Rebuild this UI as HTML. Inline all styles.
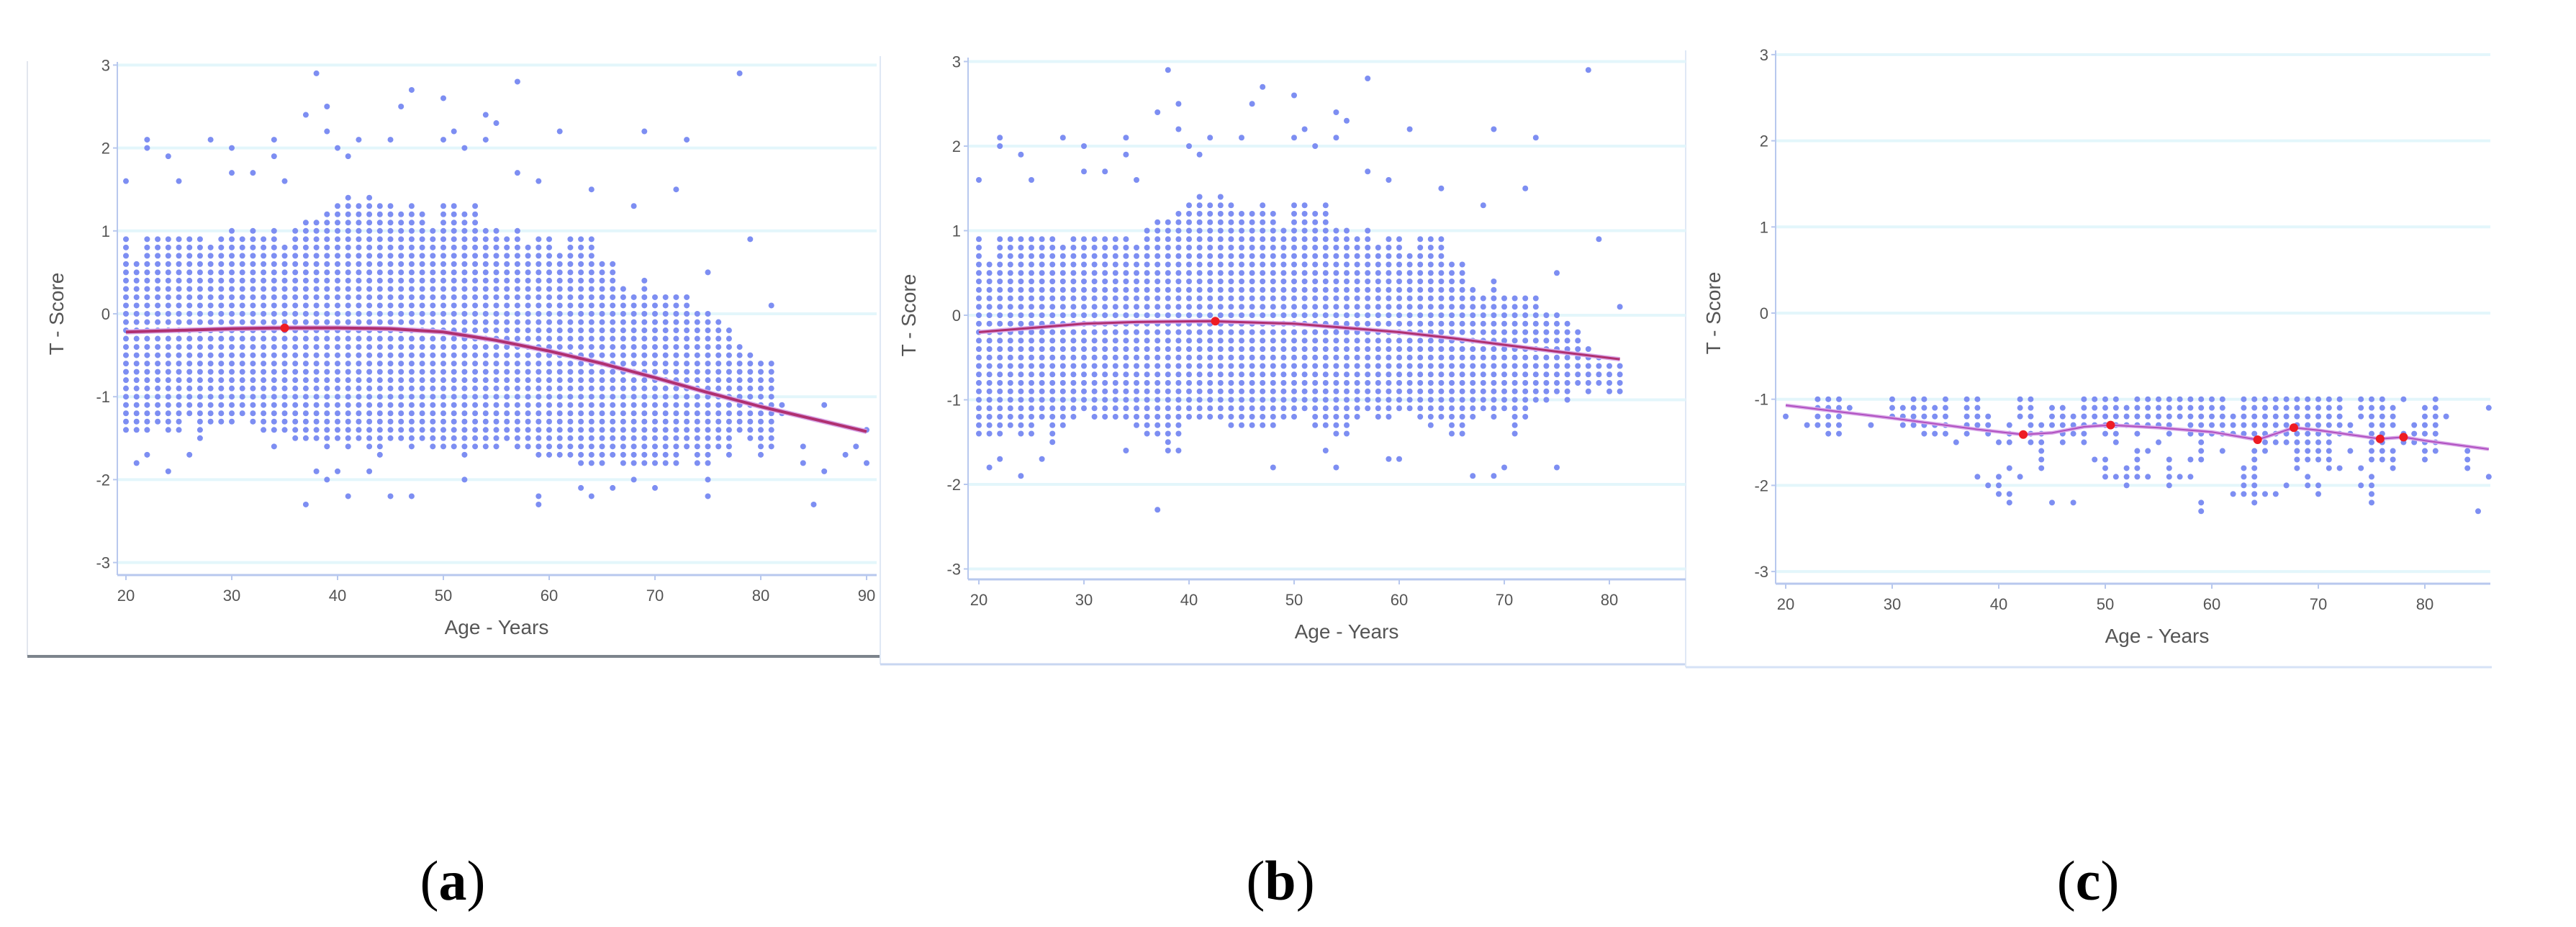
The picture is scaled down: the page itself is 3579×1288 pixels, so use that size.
<!DOCTYPE html>
<html><head><meta charset="utf-8">
<style>
html,body{margin:0;padding:0;background:#fff;}
svg{display:block;}
</style></head>
<body>
<svg id="fig" width="3579" height="1288" viewBox="0 0 3579 1288" xmlns="http://www.w3.org/2000/svg" font-family="'Liberation Sans', sans-serif">
  <g>
    <line x1="38" y1="85" x2="38" y2="912" stroke="#e2e6ee" stroke-width="2"/>
    <line x1="38" y1="912" x2="1222" y2="912" stroke="#7d848c" stroke-width="4"/>
  </g>
  <g>
    <line x1="1223" y1="78" x2="1223" y2="923" stroke="#dfe8f5" stroke-width="2"/>
    <line x1="1223" y1="923" x2="2342" y2="923" stroke="#c8d6f0" stroke-width="3"/>
  </g>
  <g>
    <line x1="2342" y1="70" x2="2342" y2="927" stroke="#dfe8f5" stroke-width="2"/>
    <line x1="2342" y1="927" x2="3462" y2="927" stroke="#d6e2f6" stroke-width="3"/>
  </g>
  <g id="pa"></g>
  <g id="pb"></g>
  <g id="pc"></g>
  <text x="629" y="1250" font-family="'Liberation Serif', serif" font-size="78" text-anchor="middle">(<tspan font-weight="bold">a</tspan>)</text>
  <text x="1779" y="1250" font-family="'Liberation Serif', serif" font-size="78" text-anchor="middle">(<tspan font-weight="bold">b</tspan>)</text>
  <text x="2901" y="1250" font-family="'Liberation Serif', serif" font-size="78" text-anchor="middle">(<tspan font-weight="bold">c</tspan>)</text>
</svg>
<script>
// ---------- shared ticks ----------
const yTicks = [3, 2, 1, 0, -1, -2, -3];
const yTickLabels = ["3", "2", "1", "0", "-1", "-2", "-3"];

// ---------- Panel A data ----------
const aSegAge = [20,21,22,23,24,25,26,27,28,29,30,31,32,33,34,35,36,37,38,39,40,41,42,43,44,45,46,47,48,49,50,51,52,53,54,55,56,57,58,59,60,61,62,63,64,65,66,67,68,69,70,71,72,73,74,75,76,77,78,79,80,81,82];
const aSegHi  = [0.9,0.6,0.9,0.9,0.9,0.9,0.9,0.9,0.8,0.9,1.0,0.9,1.0,0.9,1.0,0.8,1.0,1.1,1.1,1.2,1.3,1.4,1.3,1.4,1.3,1.3,1.2,1.3,1.2,1.0,1.3,1.3,1.2,1.3,1.0,1.0,0.9,1.0,0.8,0.9,0.9,0.7,0.9,0.9,0.9,0.6,0.6,0.3,0.2,0.4,0.2,0.2,0.2,0.2,0.0,0.0,-0.1,-0.2,-0.4,-0.5,-0.6,-0.6,-1.1];
const aSegLo  = [-1.4,-1.4,-1.4,-1.3,-1.4,-1.4,-1.2,-1.5,-1.3,-1.3,-1.3,-1.2,-1.3,-1.4,-1.4,-1.4,-1.5,-1.5,-1.5,-1.6,-1.5,-1.6,-1.5,-1.6,-1.7,-1.5,-1.5,-1.6,-1.5,-1.6,-1.6,-1.6,-1.7,-1.6,-1.6,-1.6,-1.5,-1.6,-1.6,-1.7,-1.7,-1.7,-1.7,-1.8,-1.8,-1.8,-1.7,-1.8,-1.8,-1.8,-1.8,-1.8,-1.8,-1.6,-1.8,-1.8,-1.6,-1.7,-1.4,-1.5,-1.7,-1.6,-1.2];
const aOutAge = [20,22,22,24,25,28,30,30,32,34,34,35,37,38,39,39,40,41,42,45,46,47,50,50,51,52,54,54,55,57,57,59,61,64,68,69,72,73,75,78,79,81,21,22,24,26,34,37,38,39,40,41,43,45,47,52,59,59,63,64,66,68,70,75,75,84,84,85,86,86,88,89,90,90];
const aOutT   = [1.6,2.1,2.0,1.9,1.6,2.1,2.0,1.7,1.7,2.1,1.9,1.6,2.4,2.9,2.5,2.2,2.0,1.9,2.1,2.1,2.5,2.7,2.6,2.1,2.2,2.0,2.4,2.1,2.3,2.8,1.7,1.6,2.2,1.5,1.3,2.2,1.5,2.1,0.5,2.9,0.9,0.1,-1.8,-1.7,-1.9,-1.7,-1.6,-2.3,-1.9,-2.0,-1.9,-2.2,-1.9,-2.2,-2.2,-2.0,-2.3,-2.2,-2.1,-2.2,-2.1,-2.0,-2.1,-2.2,-2.0,-1.6,-1.8,-2.3,-1.1,-1.9,-1.7,-1.6,-1.8,-1.4];
const aCurveAge = [20,25,30,35,40,45,50,55,60,65,70,75,80,85,90];
const aCurveT   = [-0.22,-0.2,-0.18,-0.17,-0.17,-0.18,-0.22,-0.32,-0.45,-0.6,-0.77,-0.95,-1.12,-1.27,-1.42];
const aRedAge = [35];
const aRedT   = [-0.17];
const aXTicks = [20,30,40,50,60,70,80,90];

// ---------- Panel B data ----------
const bSegAge = [20,21,22,23,24,25,26,27,28,29,30,31,32,33,34,35,36,37,38,39,40,41,42,43,44,45,46,47,48,49,50,51,52,53,54,55,56,57,58,59,60,61,62,63,64,65,66,67,68,69,70,71,72,73,74,75,76,77,78,79,80,81];
const bSegHi  = [0.9,0.6,0.9,0.9,0.9,0.9,0.9,0.9,0.8,0.9,0.9,0.9,0.9,0.9,0.9,0.8,1.0,1.1,1.1,1.2,1.3,1.4,1.3,1.4,1.3,1.2,1.2,1.3,1.2,1.0,1.3,1.3,1.2,1.3,1.0,1.0,0.9,1.0,0.8,0.9,0.9,0.7,0.9,0.9,0.9,0.6,0.6,0.3,0.2,0.4,0.2,0.2,0.2,0.2,0.0,0.0,-0.1,-0.2,-0.4,-0.5,-0.6,-0.6];
const bSegLo  = [-1.4,-1.4,-1.4,-1.3,-1.4,-1.4,-1.2,-1.5,-1.3,-1.2,-1.1,-1.2,-1.2,-1.2,-1.2,-1.3,-1.4,-1.4,-1.5,-1.4,-1.2,-1.2,-1.2,-1.2,-1.3,-1.3,-1.3,-1.3,-1.3,-1.2,-1.2,-1.1,-1.3,-1.3,-1.4,-1.4,-1.2,-1.1,-1.2,-1.2,-1.1,-1.1,-1.2,-1.3,-1.2,-1.4,-1.3,-1.2,-1.1,-1.2,-1.1,-1.4,-1.2,-1.0,-1.0,-0.9,-1.0,-0.8,-0.9,-0.8,-0.9,-0.9];
const bOutAge = [20,22,22,24,25,28,30,30,32,34,34,35,37,38,39,39,40,41,42,45,46,47,50,50,51,52,54,54,55,57,57,59,61,64,68,69,72,73,75,78,79,81,21,22,24,26,34,37,38,39,48,53,54,59,60,66,67,69,70,75];
const bOutT   = [1.6,2.1,2.0,1.9,1.6,2.1,2.0,1.7,1.7,2.1,1.9,1.6,2.4,2.9,2.5,2.2,2.0,1.9,2.1,2.1,2.5,2.7,2.6,2.1,2.2,2.0,2.4,2.1,2.3,2.8,1.7,1.6,2.2,1.5,1.3,2.2,1.5,2.1,0.5,2.9,0.9,0.1,-1.8,-1.7,-1.9,-1.7,-1.6,-2.3,-1.6,-1.6,-1.8,-1.6,-1.8,-1.7,-1.7,-1.4,-1.9,-1.9,-1.8,-1.8];
const bCurveAge = [20,25,30,35,42,50,55,60,65,70,75,81];
const bCurveT   = [-0.2,-0.15,-0.1,-0.08,-0.07,-0.1,-0.15,-0.2,-0.27,-0.35,-0.43,-0.52];
const bRedAge = [42.5];
const bRedT   = [-0.07];
const bXTicks = [20,30,40,50,60,70,80];

// ---------- Panel C data ----------
const cSegAge = [20,22,23,24,25,26,28,30,31,32,33,34,35,36,37,38,38,39,39,40,40,41,41,41,42,42,43,44,45,45,46,47,47,48,49,49,50,50,51,51,52,52,53,53,54,54,54,55,55,56,56,57,57,58,58,58,59,59,60,61,61,62,62,63,63,64,64,65,65,66,66,67,67,68,69,69,70,70,71,72,72,73,73,74,74,74,75,75,76,77,77,78,78,79,80,81,82,84,85,86,86];
const cSegHi  = [-1.2,-1.3,-1.0,-1.0,-1.0,-1.1,-1.3,-1.0,-1.1,-1.0,-1.0,-1.1,-1.0,-1.5,-1.0,-1.0,-1.9,-1.2,-2.0,-1.5,-1.9,-1.3,-1.8,-2.1,-1.0,-1.9,-1.0,-1.3,-1.1,-2.2,-1.1,-1.2,-2.2,-1.0,-1.0,-1.7,-1.0,-1.7,-1.0,-1.9,-1.1,-1.8,-1.0,-1.6,-1.0,-1.6,-1.9,-1.0,-1.5,-1.0,-1.7,-1.0,-1.9,-1.0,-1.7,-1.9,-1.0,-2.2,-1.0,-1.0,-1.6,-1.2,-2.1,-1.0,-1.8,-1.0,-1.6,-1.0,-2.1,-1.0,-2.1,-1.0,-2.0,-1.0,-1.0,-1.9,-1.0,-2.0,-1.0,-1.0,-1.8,-1.3,-1.6,-1.0,-1.8,-2.0,-1.0,-1.9,-1.0,-1.1,-1.6,-1.0,-1.4,-1.3,-1.1,-1.0,-1.2,-1.6,-2.3,-1.1,-1.9];
const cSegLo  = [-1.2,-1.3,-1.3,-1.4,-1.4,-1.1,-1.3,-1.2,-1.3,-1.3,-1.4,-1.4,-1.4,-1.5,-1.4,-1.3,-1.9,-1.4,-2.0,-1.5,-2.1,-1.5,-1.8,-2.2,-1.2,-1.9,-1.5,-1.8,-1.3,-2.2,-1.5,-1.4,-2.2,-1.5,-1.3,-1.7,-1.4,-1.9,-1.5,-1.9,-1.3,-2.0,-1.4,-1.9,-1.3,-1.6,-1.9,-1.3,-1.5,-1.4,-2.0,-1.2,-1.9,-1.4,-1.7,-1.9,-1.7,-2.3,-1.4,-1.4,-1.6,-1.4,-2.1,-1.4,-2.1,-1.4,-2.2,-1.6,-2.1,-1.5,-2.1,-1.5,-2.0,-1.8,-1.7,-2.0,-1.7,-2.1,-1.8,-1.4,-1.8,-1.4,-1.6,-1.2,-1.8,-2.0,-1.7,-2.2,-1.7,-1.3,-1.8,-1.0,-1.5,-1.5,-1.7,-1.6,-1.2,-1.8,-2.3,-1.1,-1.9];
const cCurveAge = [20,30,38,42.3,45,48,50.5,55,60,64.3,67.7,70,75.8,78,80,86];
const cCurveT   = [-1.07,-1.22,-1.35,-1.41,-1.39,-1.32,-1.3,-1.33,-1.38,-1.47,-1.33,-1.36,-1.46,-1.44,-1.48,-1.58];
const cRedAge = [42.3,50.5,64.3,67.7,75.8,78];
const cRedT   = [-1.41,-1.3,-1.47,-1.33,-1.46,-1.44];
const cXTicks = [20,30,40,50,60,70,80];

const NS = "http://www.w3.org/2000/svg";
function mk(parent, tag, attrs) {
  const el = document.createElementNS(NS, tag);
  for (const k in attrs) el.setAttribute(k, attrs[k]);
  parent.appendChild(el);
  return el;
}

function drawPanel(g, cfg) {
  const sx = v => cfg.x20 + (v - 20) * cfg.pxYear;
  const sy = v => cfg.y0 - v * cfg.pxUnit;
  // gridlines
  yTicks.forEach((t, i) => {
    const gl = mk(g, "line", {x1: cfg.axisX, x2: cfg.right, y1: sy(t), y2: sy(t), stroke: "#e3f6fb", "stroke-width": 4});
    
    
    const tk = mk(g, "line", {x1: cfg.axisX - 6, x2: cfg.axisX, y1: sy(t), y2: sy(t), stroke: "#b8c8ee", "stroke-width": 2});
    
    
    const tl = mk(g, "text", {x: cfg.axisX - 10, y: sy(t) + 8, "text-anchor": "end", "font-size": 22, fill: "#555"});
    tl.textContent = yTickLabels[i];
    
    
  });
  // axes
  const ya = mk(g, "line", {x1: cfg.axisX, x2: cfg.axisX, y1: cfg.top, y2: cfg.bottom, stroke: "#b8c8ee", "stroke-width": 2});
  
  
  const xa = mk(g, "line", {x1: cfg.axisX, x2: cfg.right, y1: cfg.bottom, y2: cfg.bottom, stroke: "#b8c8ee", "stroke-width": 3});
  
  
  cfg.xTicks.forEach(t => {
    const tk = mk(g, "line", {x1: sx(t), x2: sx(t), y1: cfg.bottom, y2: cfg.bottom + 7, stroke: "#b8c8ee", "stroke-width": 2});
    
    
    const tl = mk(g, "text", {x: sx(t), y: cfg.bottom + 36, "text-anchor": "middle", "font-size": 22, fill: "#555"});
    tl.textContent = String(t);
    
    
  });
  const xt = mk(g, "text", {x: cfg.xTitleX, y: cfg.bottom + 82, "text-anchor": "middle", "font-size": 28, fill: "#555"});
  xt.textContent = "Age - Years";
  
  
  const yt = mk(g, "text", {x: 0, y: 0, "text-anchor": "middle", "font-size": 28, fill: "#555", transform: `translate(${cfg.yTitleX},${cfg.y0}) rotate(-90)`});
  yt.textContent = "T - Score";
  
  
  // points
  const pts = mk(g, "g", {fill: "#7d8ef2"});
  
  
  cfg.segAge.forEach((a, i) => {
    const hi = Math.round(cfg.segHi[i] * 10), lo = Math.round(cfg.segLo[i] * 10);
    for (let k = lo; k <= hi; k++) {
      const c = mk(pts, "circle", {cx: sx(a), cy: sy(k / 10), r: 4});
      
      
    }
  });
  (cfg.outAge || []).forEach((a, i) => {
    const c = mk(pts, "circle", {cx: sx(a), cy: sy(cfg.outT[i]), r: 4});
    
    
  });
  // curve
  const d = cfg.curveAge.map((a, i) => (i ? "L" : "M") + sx(a).toFixed(1) + "," + sy(cfg.curveT[i]).toFixed(1)).join(" ");
  const under = mk(g, "path", {d: d, fill: "none", stroke: "#d9a8e8", "stroke-width": cfg.curveW + 3, "stroke-linejoin": "round"});
  
  
  const cv = mk(g, "path", {d: d, fill: "none", stroke: cfg.curveColor, "stroke-width": cfg.curveW, "stroke-linejoin": "round"});
  
  
  cfg.redAge.forEach((a, i) => {
    const c = mk(g, "circle", {cx: sx(a), cy: sy(cfg.redT[i]), r: 6, fill: "#ee1c24"});
    
    
  });
}

drawPanel(document.getElementById("pa"), {
  x20: 175, pxYear: 14.7, y0: 436, pxUnit: 115.2, axisX: 163, right: 1218, top: 86, bottom: 799,
  xTitleX: 690, yTitleX: 88, xTicks: aXTicks, segAge: aSegAge, segHi: aSegHi, segLo: aSegLo,
  outAge: aOutAge, outT: aOutT, curveAge: aCurveAge, curveT: aCurveT, redAge: aRedAge, redT: aRedT,
  curveColor: "#b03070", curveW: 4
});
drawPanel(document.getElementById("pb"), {
  x20: 1360, pxYear: 14.6, y0: 438, pxUnit: 117.5, axisX: 1345, right: 2342, top: 80, bottom: 805,
  xTitleX: 1871, yTitleX: 1272, xTicks: bXTicks, segAge: bSegAge, segHi: bSegHi, segLo: bSegLo,
  outAge: bOutAge, outT: bOutT, curveAge: bCurveAge, curveT: bCurveT, redAge: bRedAge, redT: bRedT,
  curveColor: "#b03070", curveW: 3
});
drawPanel(document.getElementById("pc"), {
  x20: 2481, pxYear: 14.8, y0: 435, pxUnit: 119.7, axisX: 2467, right: 3460, top: 70, bottom: 811,
  xTitleX: 2997, yTitleX: 2390, xTicks: cXTicks, segAge: cSegAge, segHi: cSegHi, segLo: cSegLo,
  outAge: [], outT: [], curveAge: cCurveAge, curveT: cCurveT, redAge: cRedAge, redT: cRedT,
  curveColor: "#b050c0", curveW: 2
});
</script>
</body></html>
